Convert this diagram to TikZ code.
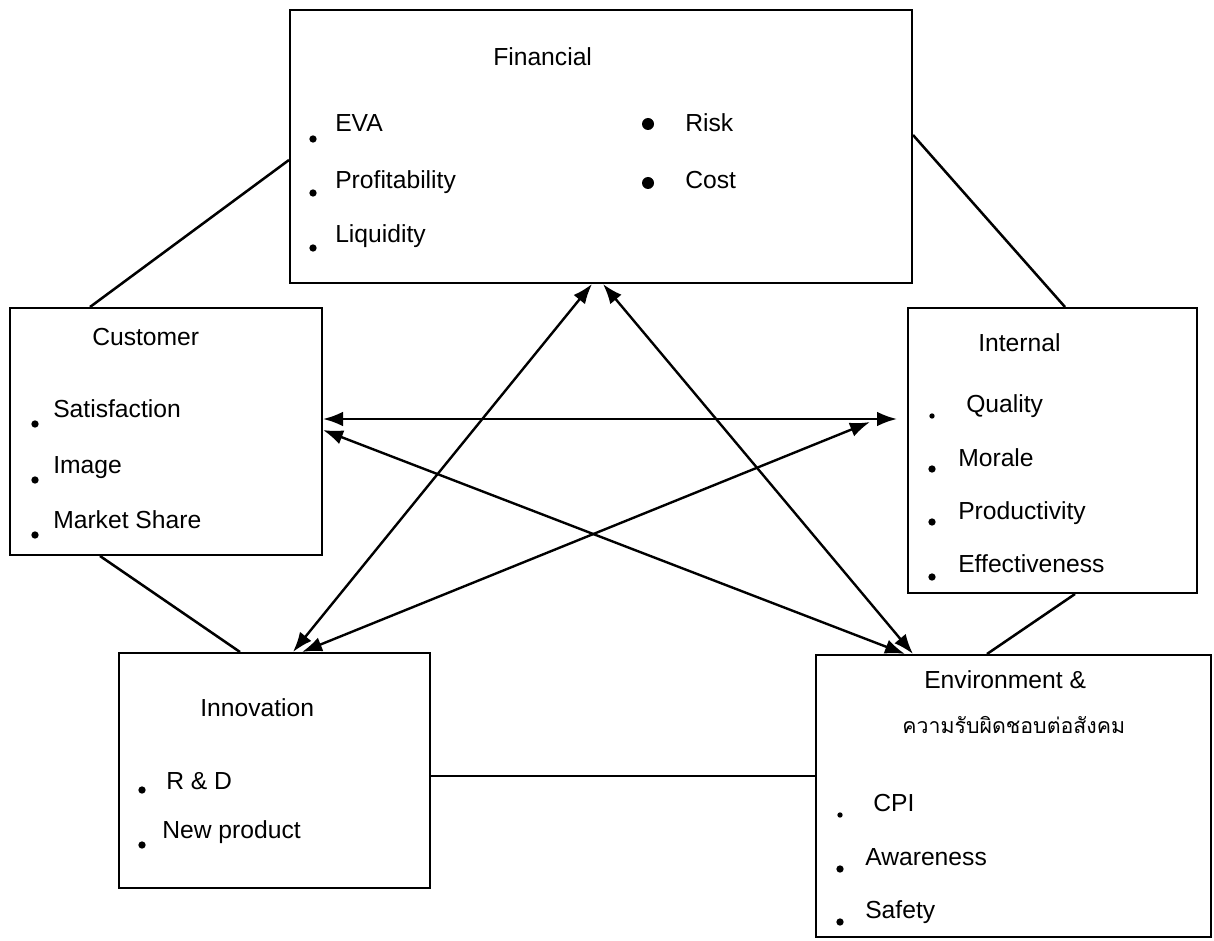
\documentclass[tikz,border=0pt]{standalone}
\usepackage{fontspec}
\setmainfont{Liberation Sans}
\newfontfamily\thaifont[Script=Thai]{Loma}
\usetikzlibrary{arrows.meta,fit}

\tikzset{
  box/.style={draw, line width=1.5pt, inner sep=0pt},
  link/.style={line width=1.9pt},
  twoway/.style={line width=1.8pt, {Latex[length=15pt,width=11pt]}-{Latex[length=15pt,width=11pt]}},
  txt/.style={anchor=base west, inner sep=0pt, font=\fontsize{18.5}{21}\selectfont},
  dot/.style={circle, fill, inner sep=0pt, minimum size=5.5pt},
  bigdot/.style={circle, fill, inner sep=0pt, minimum size=9pt},
}

\begin{document}
\begin{tikzpicture}[x=0.75pt,y=0.75pt,yscale=-1,xscale=1]
\useasboundingbox (0,0) rectangle (1214,941);

%Boxes
\node [box, fit={(290,10) (912,283)}] (fin) {};
\node [box, fit={(10,308) (322,555)}] (cust) {};
\node [box, fit={(908,308) (1197,593)}] (intl) {};
\node [box, fit={(119,653) (430,888)}] (inno) {};
\node [box, fit={(816,655) (1211,937)}] (env) {};

%Plain links between boxes
\draw [link] (cust.north -| 90,0) -- (fin.west |- 0,160) ;
\draw [link] (fin.east |- 0,135) -- (intl.north -| 1065,0) ;
\draw [link] (cust.south -| 100,0) -- (inno.north -| 240,0) ;
\draw [link] (intl.south -| 1075,0) -- (env.north -| 987,0) ;
\draw [link] (inno.east |- 0,776) -- (env.west |- 0,776) ;

%Two-way arrows
\coordinate (intlA) at (897,419);
\coordinate (intlB) at (870,422);
\draw [twoway] (cust.east |- 0,419) -- (intlA) ;
\draw [twoway] (fin.south -| 592,0) -- (inno.north -| 293,0) ;
\draw [twoway] (fin.south -| 603,0) -- (env.north -| 913,0) ;
\draw [twoway] (cust.east |- 0,430) -- (env.north -| 905,0) ;
\draw [twoway] (inno.north -| 302,0) -- (intlB) ;

% Financial
\node [txt] (finT) at (493,66) {Financial};
\node [dot] (finD1) at (313,139) {};
\node [txt] (finI1) at (335,132) {EVA};
\node [dot] (finD2) at (313,193) {};
\node [txt] (finI2) at (335,189) {Profitability};
\node [dot] (finD3) at (313,248) {};
\node [txt] (finI3) at (335,243) {Liquidity};
\node [bigdot] (finD4) at (648,124) {};
\node [txt] (finI4) at (685,132) {Risk};
\node [bigdot] (finD5) at (648,183) {};
\node [txt] (finI5) at (685,189) {Cost};

% Customer
\node [txt] (custT) at (92,345) {Customer};
\node [dot] (custD1) at (35,424) {};
\node [txt] (custI1) at (53,417) {Satisfaction};
\node [dot] (custD2) at (35,480) {};
\node [txt] (custI2) at (53,473) {Image};
\node [dot] (custD3) at (35,535) {};
\node [txt] (custI3) at (53,528) {Market Share};

% Internal
\node [txt] (intlT) at (978,352) {Internal};
\node [dot, minimum size=4pt] (intlD1) at (932,416) {};
\node [txt] (intlI1) at (966,412) {Quality};
\node [dot] (intlD2) at (932,469) {};
\node [txt] (intlI2) at (958,466) {Morale};
\node [dot] (intlD3) at (932,522) {};
\node [txt] (intlI3) at (958,519) {Productivity};
\node [dot] (intlD4) at (932,577) {};
\node [txt] (intlI4) at (958,572) {Effectiveness};

% Innovation
\node [txt] (innoT) at (200,716) {Innovation};
\node [dot] (innoD1) at (142,790) {};
\node [txt] (innoI1) at (166,789) {R \& D};
\node [dot] (innoD2) at (142,845) {};
\node [txt] (innoI2) at (162,838) {New product};

% Environment
\node [txt] (envT) at (924,688) {Environment \&};
\node [txt, font=\fontsize{16}{19}\thaifont] (envT2) at (902,733) {ความรับผิดชอบต่อสังคม};
\node [dot, minimum size=4pt] (envD1) at (840,815) {};
\node [txt] (envI1) at (873,811) {CPI};
\node [dot] (envD2) at (840,869) {};
\node [txt] (envI2) at (865,865) {Awareness};
\node [dot] (envD3) at (840,922) {};
\node [txt] (envI3) at (865,918) {Safety};

\end{tikzpicture}
\end{document}
